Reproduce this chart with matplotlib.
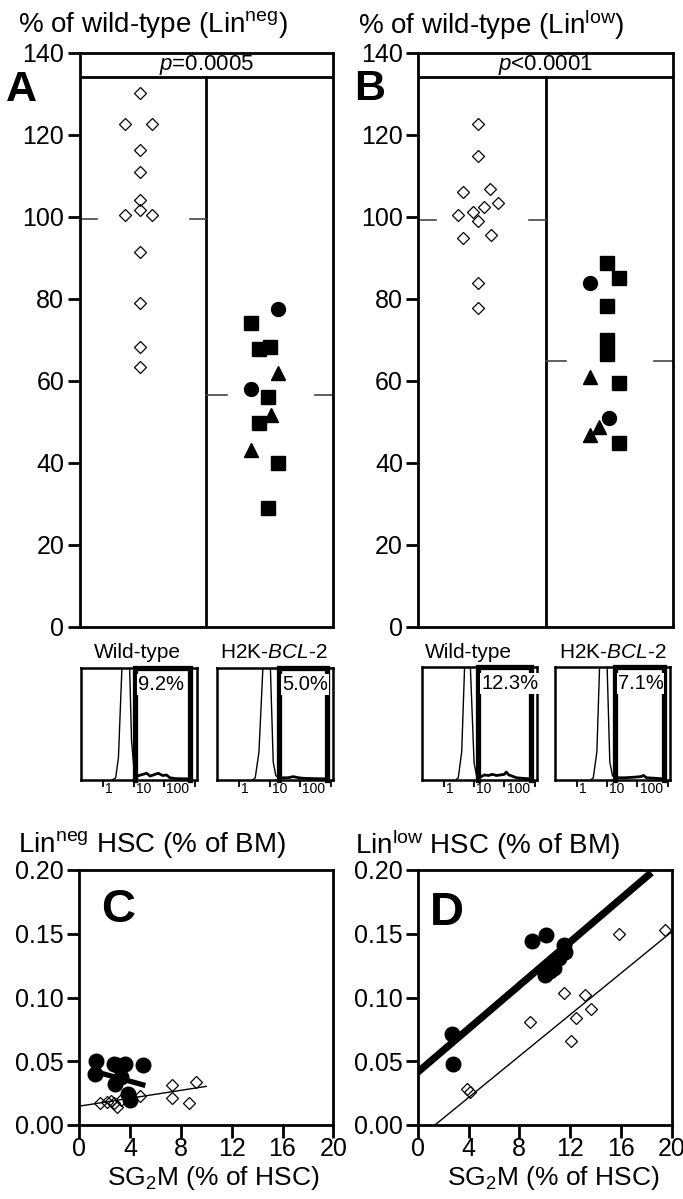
import matplotlib
matplotlib.use("Agg")
import matplotlib.pyplot as plt
from matplotlib.ticker import FormatStrFormatter

plt.rcParams['font.family'] = ['Liberation Sans', 'DejaVu Sans']
plt.rcParams['mathtext.fontset'] = 'custom'
plt.rcParams['mathtext.rm'] = 'Liberation Sans'
plt.rcParams['mathtext.it'] = 'Liberation Sans:italic'
plt.rcParams['mathtext.bf'] = 'Liberation Sans:bold'

W, H = 683, 1199

# ---- panel A: % of wild-type (Lin neg) ----
a_wt_x = [0.48, 0.36, 0.57, 0.48, 0.48, 0.48, 0.36, 0.48, 0.57, 0.48, 0.48, 0.48, 0.48]
a_wt_y = [130.2, 122.7, 122.7, 116.3, 110.9, 104.1, 100.5, 101.8, 100.5, 91.4, 79.0, 68.4, 63.5]
a_wt_mean = 99.5
a_tg_circ_x = [1.57, 1.35]
a_tg_circ_y = [77.6, 58.0]
a_tg_sq_x = [1.35, 1.42, 1.50, 1.49, 1.42, 1.57, 1.49]
a_tg_sq_y = [74.1, 67.7, 68.4, 56.0, 49.7, 40.0, 29.0]
a_tg_tri_x = [1.57, 1.51, 1.35]
a_tg_tri_y = [61.9, 51.7, 43.2]
a_tg_mean = 56.6
a_ptext = "$p$=0.0005"

# ---- panel B: % of wild-type (Lin low) ----
b_wt_x = [0.47, 0.47, 0.35, 0.56, 0.63, 0.52, 0.43, 0.31, 0.47, 0.35, 0.57, 0.47, 0.47]
b_wt_y = [122.7, 115.0, 106.0, 106.8, 103.3, 102.5, 101.1, 100.5, 99.0, 94.8, 95.6, 83.8, 77.7]
b_wt_mean = 99.3
b_tg_circ_x = [1.35, 1.50]
b_tg_circ_y = [83.8, 51.0]
b_tg_sq_x = [1.48, 1.575, 1.48, 1.48, 1.48, 1.575, 1.575]
b_tg_sq_y = [88.7, 85.2, 78.3, 70.0, 66.5, 59.4, 44.8]
b_tg_tri_x = [1.35, 1.42, 1.35]
b_tg_tri_y = [61.0, 48.9, 46.8]
b_tg_mean = 64.9
b_ptext = "$p$<0.0001"

p_box = 134.1

# ---- flow histograms (fluorescence, log scale) ----
hist_ticks = [1, 10, 100, 1000]
hist_tick_labels = ['1', '10', '100', '']

a1_peak_x = [2.0, 2.6, 3.2, 4.3, 7.3, 8.6, 10.5, 13]
a1_peak_y = [0, 0.02, 0.2, 1.1, 1.1, 0.35, 0.08, 0.02]
a1_tail_x = [12, 15, 20, 27, 35, 50, 65, 90, 120, 155, 250, 700]
a1_tail_y = [0.03, 0.04, 0.05, 0.06, 0.035, 0.05, 0.06, 0.04, 0.045, 0.02, 0.012, 0.01]
a1_gate = (11.1, 711)
a1_pct = "9.2%"

a2_peak_x = [2.8, 3.4, 4.5, 6.3, 10.4, 13.2, 16, 20]
a2_peak_y = [0, 0.02, 0.25, 1.1, 1.1, 0.16, 0.04, 0.02]
a2_tail_x = [20, 40, 60, 90, 130, 300, 700]
a2_tail_y = [0.02, 0.02, 0.03, 0.02, 0.015, 0.012, 0.01]
a2_gate = (20.7, 750)
a2_pct = "5.0%"

b1_peak_x = [2.5, 3.0, 3.9, 5.0, 7.3, 10.0, 12, 15]
b1_peak_y = [0, 0.02, 0.25, 1.1, 1.1, 0.15, 0.04, 0.02]
b1_tail_x = [17, 22, 30, 40, 55, 75, 100, 116, 140, 200, 250, 400, 700]
b1_tail_y = [0.03, 0.045, 0.04, 0.05, 0.04, 0.045, 0.05, 0.07, 0.045, 0.03, 0.02, 0.015, 0.01]
b1_gate = (13.6, 776)
b1_pct = "12.3%"

b2_peak_x = [2.9, 3.5, 4.6, 5.8, 9.8, 12.3, 15, 18]
b2_peak_y = [0, 0.02, 0.25, 1.1, 1.1, 0.16, 0.04, 0.02]
b2_tail_x = [20, 40, 80, 130, 160, 200, 400, 700]
b2_tail_y = [0.02, 0.02, 0.025, 0.03, 0.04, 0.02, 0.015, 0.01]
b2_gate = (18, 776)
b2_pct = "7.1%"

# ---- panel C: Lin neg HSC vs SG2M ----
c_tg_x = [1.3, 1.2, 2.7, 3.0, 3.6, 5.0, 2.8, 3.3, 4.0, 3.8]
c_tg_y = [0.050, 0.040, 0.048, 0.047, 0.048, 0.047, 0.032, 0.038, 0.020, 0.024]
c_wt_x = [1.6, 2.2, 2.5, 2.7, 3.0, 3.3, 4.8, 7.3, 7.3, 8.6, 9.2]
c_wt_y = [0.017, 0.018, 0.019, 0.017, 0.014, 0.020, 0.023, 0.031, 0.021, 0.017, 0.034]
c_tg_fit = (0.0453, -0.00275, 1.2, 5.2)    # intercept, slope, x from, x to
c_wt_fit = (0.0148, 0.00155, 0.0, 10.0)

# ---- panel D: Lin low HSC vs SG2M ----
d_tg_x = [2.8, 2.7, 9.0, 10.1, 11.5, 11.6, 11.1, 10.7, 10.0, 10.4]
d_tg_y = [0.048, 0.071, 0.144, 0.149, 0.141, 0.136, 0.131, 0.123, 0.118, 0.121]
d_wt_x = [3.86, 4.12, 8.85, 11.52, 13.18, 13.62, 12.47, 12.05, 15.88, 19.47]
d_wt_y = [0.0285, 0.0259, 0.081, 0.1036, 0.1023, 0.0906, 0.0842, 0.066, 0.150, 0.1528]
d_tg_fit = (0.0414, 0.00851, 0.0, 18.4)
d_wt_fit = (-0.01105, 0.00813, 1.36, 20.0)


def px_axes(fig, x0, y0, x1, y1):
    return fig.add_axes([x0 / W, 1 - y1 / H, (x1 - x0) / W, (y1 - y0) / H])


def ftext(fig, x, y, s, **kw):
    return fig.text(x / W, 1 - y / H, s, **kw)


def dot_panel(ax, wt_x, wt_y, wt_mean, circ, sq, tri, tg_mean, ptext):
    ax.set_xlim(0, 2)
    ax.set_ylim(0, 140)
    for s in ax.spines.values():
        s.set_linewidth(2)
    ax.set_xticks([])
    ax.set_yticks(range(0, 141, 20))
    ax.tick_params(axis='y', direction='out', length=9, width=2, labelsize=18, pad=2)
    ax.plot([0, 2], [p_box, p_box], color='k', lw=2)
    ax.plot([1, 1], [0, p_box], color='k', lw=2)
    ax.text(1, 137, ptext, ha='center', va='center', fontsize=16)
    ax.plot([0, 0.14], [wt_mean, wt_mean], color='#444', lw=1.2)
    ax.plot([0.87, 1.0], [wt_mean, wt_mean], color='#444', lw=1.2)
    ax.plot([1.0, 1.16], [tg_mean, tg_mean], color='#444', lw=1.2)
    ax.plot([1.855, 2.0], [tg_mean, tg_mean], color='#444', lw=1.2)
    ax.plot(wt_x, wt_y, ls='none', marker='D', ms=6.5, mfc='none', mec='k', mew=0.9)
    ax.plot(circ[0], circ[1], ls='none', marker='o', ms=10, color='k')
    ax.plot(sq[0], sq[1], ls='none', marker='s', ms=9.5, color='k')
    ax.plot(tri[0], tri[1], ls='none', marker='^', ms=9.5, color='k')


def hist_panel(ax, peak_x, peak_y, tail_x, tail_y, gate, pct):
    ax.set_xscale('log')
    ax.set_xlim(0.19, 1200)
    ax.set_ylim(0, 1)
    for s in ax.spines.values():
        s.set_linewidth(1.8)
    ax.set_yticks([])
    ax.set_xticks(hist_ticks)
    ax.set_xticks([], minor=True)
    ax.set_xticklabels([])
    ax.tick_params(axis='x', direction='out', length=5, width=1.3)
    ax.plot(peak_x, peak_y, color='k', lw=1.0)
    ax.plot(tail_x, tail_y, color='k', lw=2.0)
    ax.plot([gate[0], gate[0], gate[1], gate[1]], [0, 1, 1, 0], color='k', lw=3.8,
            clip_on=False, solid_joinstyle='miter')
    ax.text(gate[0] * 1.25, 0.94, pct, ha='left', va='top', fontsize=14.5, zorder=5,
            bbox=dict(fc='white', ec='none', pad=0.6))
    for v, lab in zip(hist_ticks, hist_tick_labels):
        ax.text(v * 1.2, -0.02, lab, transform=ax.get_xaxis_transform(),
                ha='left', va='top', fontsize=10)


def scatter_panel(ax, tg_x, tg_y, wt_x, wt_y, tg_fit, wt_fit, tg_lw):
    ax.set_xlim(0, 20)
    ax.set_ylim(0, 0.2)
    for s in ax.spines.values():
        s.set_linewidth(2)
    ax.set_xticks(range(0, 21, 4))
    ax.set_yticks([0, 0.05, 0.10, 0.15, 0.20])
    ax.yaxis.set_major_formatter(FormatStrFormatter('%.2f'))
    ax.tick_params(direction='out', length=9, width=2, labelsize=18, pad=2)
    ax.tick_params(axis='x', pad=0)
    for b0, b1, x0, x1 in [wt_fit]:
        ax.plot([x0, x1], [b0 + b1 * x0, b0 + b1 * x1], color='k', lw=1.0)
    ax.plot(wt_x, wt_y, ls='none', marker='D', ms=6.2, mfc='none', mec='k', mew=0.9)
    ax.plot(tg_x, tg_y, ls='none', marker='o', ms=10.5, color='k')
    for b0, b1, x0, x1 in [tg_fit]:
        ax.plot([x0, x1], [b0 + b1 * x0, b0 + b1 * x1], color='k', lw=tg_lw,
                solid_capstyle='butt')


fig = plt.figure(figsize=(W / 100, H / 100), dpi=100)

ax_a = px_axes(fig, 79.5, 53, 333, 627)
dot_panel(ax_a, a_wt_x, a_wt_y, a_wt_mean, (a_tg_circ_x, a_tg_circ_y),
          (a_tg_sq_x, a_tg_sq_y), (a_tg_tri_x, a_tg_tri_y), a_tg_mean, a_ptext)
ax_b = px_axes(fig, 418.3, 53, 672.7, 627)
dot_panel(ax_b, b_wt_x, b_wt_y, b_wt_mean, (b_tg_circ_x, b_tg_circ_y),
          (b_tg_sq_x, b_tg_sq_y), (b_tg_tri_x, b_tg_tri_y), b_tg_mean, b_ptext)

ftext(fig, 18, 25, "% of wild-type (Lin$^{\\rm neg}$)", fontsize=20, ha='left', va='center')
ftext(fig, 358, 25, "% of wild-type (Lin$^{\\rm low}$)", fontsize=20, ha='left', va='center')
ftext(fig, 21.5, 90, "A", fontsize=31, fontweight='bold', ha='center', va='center')
ftext(fig, 370, 89, "B", fontsize=31, fontweight='bold', ha='center', va='center')

h_a1 = px_axes(fig, 81, 668, 197, 780)
hist_panel(h_a1, a1_peak_x, a1_peak_y, a1_tail_x, a1_tail_y, a1_gate, a1_pct)
h_a2 = px_axes(fig, 217, 668, 333, 780)
hist_panel(h_a2, a2_peak_x, a2_peak_y, a2_tail_x, a2_tail_y, a2_gate, a2_pct)
h_b1 = px_axes(fig, 422, 667, 537, 780)
hist_panel(h_b1, b1_peak_x, b1_peak_y, b1_tail_x, b1_tail_y, b1_gate, b1_pct)
h_b2 = px_axes(fig, 555, 667, 670, 780)
hist_panel(h_b2, b2_peak_x, b2_peak_y, b2_tail_x, b2_tail_y, b2_gate, b2_pct)

ftext(fig, 137.5, 653, "Wild-type", fontsize=15, ha='center', va='center')
ftext(fig, 274, 653, "H2K-$\\mathit{BCL}$-2", fontsize=15, ha='center', va='center')
ftext(fig, 468, 653, "Wild-type", fontsize=15, ha='center', va='center')
ftext(fig, 613, 653, "H2K-$\\mathit{BCL}$-2", fontsize=15, ha='center', va='center')

ax_c = px_axes(fig, 79.3, 870, 333.3, 1125)
scatter_panel(ax_c, c_tg_x, c_tg_y, c_wt_x, c_wt_y, c_tg_fit, c_wt_fit, 3.8)
ax_d = px_axes(fig, 417.7, 870, 671.7, 1125)
scatter_panel(ax_d, d_tg_x, d_tg_y, d_wt_x, d_wt_y, d_tg_fit, d_wt_fit, 5.2)

ftext(fig, 18, 845, "Lin$^{\\rm neg}$ HSC (% of BM)", fontsize=20, ha='left', va='center')
ftext(fig, 355, 845, "Lin$^{\\rm low}$ HSC (% of BM)", fontsize=20, ha='left', va='center')
ftext(fig, 118.5, 910, "C", fontsize=34, fontweight='bold', ha='center', va='center')
ftext(fig, 446.5, 913, "D", fontsize=34, fontweight='bold', ha='center', va='center')
ftext(fig, 213.5, 1178, "SG$_2$M (% of HSC)", fontsize=19, ha='center', va='center')
ftext(fig, 553.5, 1178, "SG$_2$M (% of HSC)", fontsize=19, ha='center', va='center')

fig.savefig("out.png", dpi=100, facecolor='white')
